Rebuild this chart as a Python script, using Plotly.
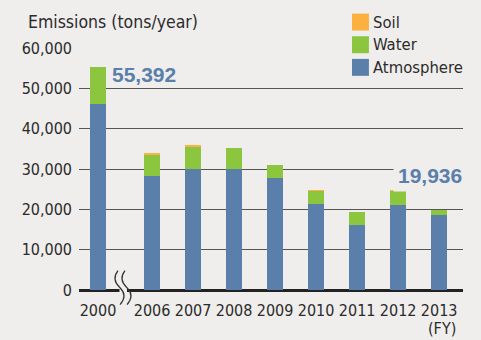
import plotly.graph_objects as go

# Emissions by year and medium (tons/year)
years = ["2000", "2006", "2007", "2008", "2009", "2010", "2011", "2012", "2013"]
atmosphere = [46160, 28300, 29900, 29900, 27800, 21400, 16150, 21100, 18620]
water = [9232, 5400, 5800, 5300, 3100, 3200, 3200, 3500, 1316]
soil = [0, 200, 250, 0, 0, 40, 0, 40, 0]
totals = [55392, None, None, None, None, None, None, None, 19936]

y_ticks = [0, 10000, 20000, 30000, 40000, 50000, 60000]
y_tick_labels = ["0", "10,000", "20,000", "30,000", "40,000", "50,000", "60,000"]

# slot positions: an extra gap after 2000 for the axis break
BREAK_GAP = 0.32
xpos = [0.0] + [i + BREAK_GAP for i in range(1, len(years))]

C_ATM = "#5a7fab"
C_WATER = "#8cc63f"
C_SOIL = "#fbb03f"
BG = "#efeeec"
FONT = "DejaVu Sans Condensed, Liberation Sans Narrow, Arial Narrow, sans-serif"
TXT = "#2b2b2b"

fig = go.Figure()
for name, vals, col in [("Atmosphere", atmosphere, C_ATM),
                        ("Water", water, C_WATER),
                        ("Soil", soil, C_SOIL)]:
    fig.add_trace(go.Bar(x=xpos, y=vals, name=name, marker_color=col,
                         marker_line_width=0, width=0.39, showlegend=False))

# total labels
fig.add_annotation(x=xpos[0], y=totals[0], text="<b>55,392</b>", xanchor="left",
                   yanchor="middle", xshift=12, yshift=-8, showarrow=False,
                   font=dict(family="Liberation Sans, Arial, sans-serif", size=21, color=C_ATM))
fig.add_annotation(x=xpos[-1], y=totals[-1], text="<b>19,936</b>", xanchor="right",
                   yanchor="bottom", xshift=28, yshift=18, showarrow=False,
                   bgcolor=BG, borderpad=4,
                   font=dict(family="Liberation Sans, Arial, sans-serif", size=21, color=C_ATM))

# legend
fig.add_shape(type="rect", xref="paper", yref="paper", x0=0.695, x1=1.02,
              y0=0.88, y1=1.3, fillcolor=BG, line_width=0, layer="above")
legend_items = [("Soil", C_SOIL), ("Water", C_WATER), ("Atmosphere", C_ATM)]
for i, (lab, col) in enumerate(legend_items):
    yc = 1.107 - i * 0.0935
    fig.add_shape(type="rect", xref="paper", yref="paper",
                  x0=0.711, x1=0.755, y0=yc - 0.035, y1=yc + 0.035,
                  fillcolor=col, line_width=0, layer="above")
    fig.add_annotation(xref="paper", yref="paper", x=0.760, y=yc, text=lab,
                       xanchor="left", yanchor="middle", showarrow=False,
                       font=dict(family=FONT, size=16.5, color=TXT))

# axis break marks (pixel layout converted to paper coordinates)
def px(x, y):
    return (x - 79) / 384, (290.3 - y) / 242.6

def squiggle(dx):
    pts = [(118 + dx, 271), (111 + dx, 280), (120 + dx, 288), (128 + dx, 296), (120 + dx, 305)]
    p = [px(*q) for q in pts]
    return "M{:.4f},{:.4f} Q{:.4f},{:.4f} {:.4f},{:.4f} Q{:.4f},{:.4f} {:.4f},{:.4f}".format(
        p[0][0], p[0][1], p[1][0], p[1][1], p[2][0], p[2][1], p[3][0], p[3][1], p[4][0], p[4][1])

fig.add_shape(type="rect", xref="paper", yref="paper",
              x0=px(119.5, 0)[0], x1=px(127, 0)[0], y0=px(0, 293)[1], y1=px(0, 287)[1],
              fillcolor=BG, line_width=0, layer="above")
fig.add_shape(type="path", xref="paper", yref="paper", path=squiggle(0),
              line=dict(color="#333", width=1.2), layer="above")
fig.add_shape(type="path", xref="paper", yref="paper", path=squiggle(7),
              line=dict(color="#333", width=1.2), layer="above")

# unit label and fiscal-year note
fig.add_annotation(xref="paper", yref="paper", x=px(26, 0)[0], y=px(0, 22)[1],
                   text="Emissions (tons/year)",
                   xanchor="left", yanchor="middle", showarrow=False,
                   font=dict(family=FONT, size=17.5, color=TXT))
fig.add_annotation(xref="paper", yref="paper", x=px(442, 0)[0], y=px(0, 329)[1], text="(FY)",
                   xanchor="center", yanchor="middle", showarrow=False,
                   font=dict(family=FONT, size=16, color=TXT))

fig.update_layout(
    barmode="stack",
    width=481, height=340,
    margin=dict(l=79, r=18, t=47.7, b=49.7, pad=0),
    paper_bgcolor=BG, plot_bgcolor=BG,
    font=dict(family=FONT, size=16, color=TXT),
    bargap=0,
)
fig.update_xaxes(range=[-0.463, 8.902], tickmode="array", tickvals=xpos, ticktext=years,
                 showgrid=False, zeroline=False, showline=False, ticks="",
                 ticklabelstandoff=9,
                 tickfont=dict(size=16, color=TXT), fixedrange=True)
fig.update_yaxes(range=[0, 60000], tickmode="array", tickvals=y_ticks, ticktext=y_tick_labels,
                 showgrid=True, gridcolor="#555", gridwidth=1.3, zeroline=True,
                 zerolinecolor="#222", zerolinewidth=2.6, ticks="", ticklabelstandoff=6,
                 tickfont=dict(size=16, color=TXT), fixedrange=True)

fig.write_html("out.html")
